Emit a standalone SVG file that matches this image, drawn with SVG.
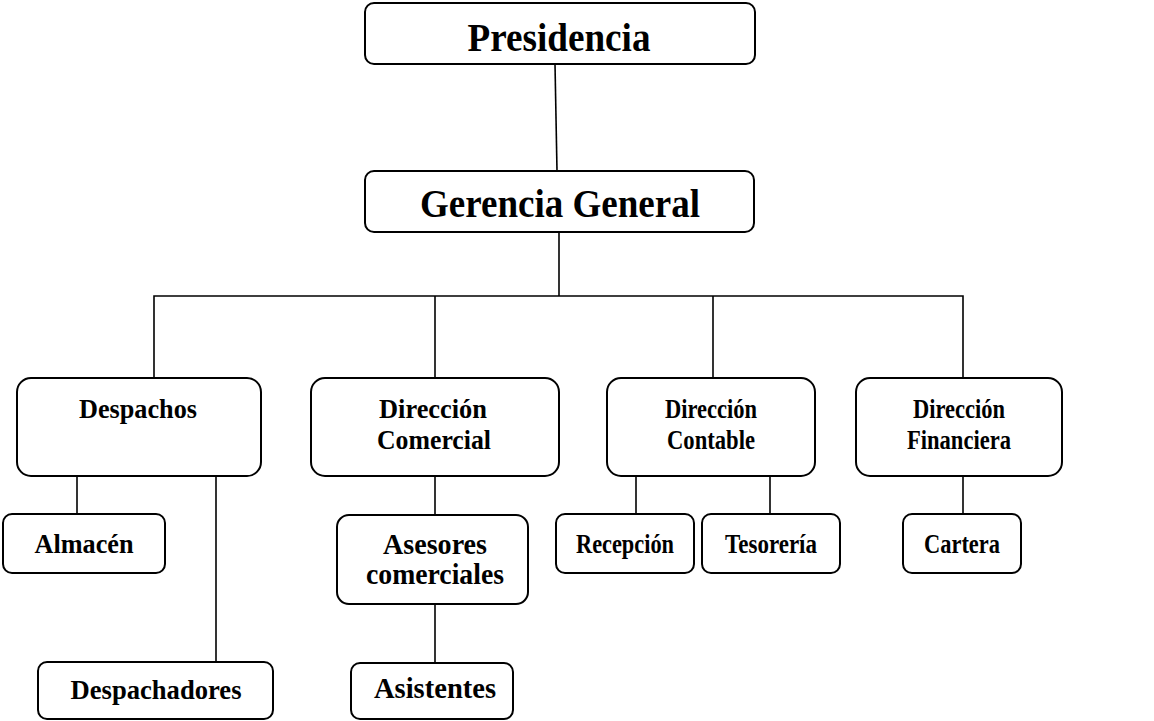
<svg xmlns="http://www.w3.org/2000/svg" width="1154" height="721" viewBox="0 0 1154 721">
<style>
.box{fill:#fff;stroke:#000;stroke-width:2}
.ln{stroke:#000;stroke-width:1.6;fill:none}
text{font-family:"Liberation Serif","Times New Roman",serif;font-weight:bold;fill:#000;text-anchor:middle}
.big{font-size:40px}
.sm{font-size:27px}
.md{font-size:30px}
</style>
<rect width="1154" height="721" fill="#fff"/>
<g id="connectors">
<line class="ln" x1="555" y1="64" x2="557" y2="171"/>
<line class="ln" x1="559" y1="232" x2="559" y2="296"/>
<polyline class="ln" points="154,378 154,296 963,296 963,378"/>
<line class="ln" x1="435" y1="296" x2="435" y2="378"/>
<line class="ln" x1="713" y1="296" x2="713" y2="378"/>
<line class="ln" x1="77" y1="476" x2="77" y2="514"/>
<line class="ln" x1="216" y1="476" x2="216" y2="662"/>
<line class="ln" x1="435" y1="476" x2="435" y2="515"/>
<line class="ln" x1="435" y1="604" x2="435" y2="663"/>
<line class="ln" x1="636" y1="477" x2="636" y2="514"/>
<line class="ln" x1="770" y1="477" x2="770" y2="514"/>
<line class="ln" x1="963" y1="476" x2="963" y2="514"/>
</g>
<g id="presidencia">
<rect class="box" x="365" y="3" width="390" height="61" rx="9"/>
<text class="big" x="559" y="51" textLength="183" lengthAdjust="spacingAndGlyphs">Presidencia</text>
</g>
<g id="gerencia">
<rect class="box" x="365" y="171" width="389" height="61" rx="9"/>
<text class="big" x="560" y="217" textLength="280" lengthAdjust="spacingAndGlyphs">Gerencia General</text>
</g>
<g id="despachos">
<rect class="box" x="17" y="378" width="244" height="98" rx="14"/>
<text class="sm" x="138" y="418" textLength="118" lengthAdjust="spacingAndGlyphs">Despachos</text>
</g>
<g id="direccion-comercial">
<rect class="box" x="311" y="378" width="248" height="98" rx="14"/>
<text class="sm" x="433" y="418" textLength="108" lengthAdjust="spacingAndGlyphs">Dirección</text>
<text class="sm" x="434" y="449" textLength="114" lengthAdjust="spacingAndGlyphs">Comercial</text>
</g>
<g id="direccion-contable">
<rect class="box" x="607" y="378" width="208" height="98" rx="14"/>
<text class="sm" x="711" y="418" textLength="92" lengthAdjust="spacingAndGlyphs">Dirección</text>
<text class="sm" x="711" y="449" textLength="88" lengthAdjust="spacingAndGlyphs">Contable</text>
</g>
<g id="direccion-financiera">
<rect class="box" x="856" y="378" width="206" height="98" rx="14"/>
<text class="sm" x="959" y="418" textLength="92" lengthAdjust="spacingAndGlyphs">Dirección</text>
<text class="sm" x="959" y="449" textLength="104" lengthAdjust="spacingAndGlyphs">Financiera</text>
</g>
<g id="almacen">
<rect class="box" x="3" y="514" width="162" height="59" rx="9"/>
<text class="sm" x="84" y="553" textLength="99" lengthAdjust="spacingAndGlyphs">Almacén</text>
</g>
<g id="despachadores">
<rect class="box" x="38" y="662" width="235" height="57" rx="9"/>
<text class="sm" x="156" y="699" textLength="171" lengthAdjust="spacingAndGlyphs">Despachadores</text>
</g>
<g id="asesores">
<rect class="box" x="337" y="515" width="191" height="89" rx="12"/>
<text class="md" x="435" y="554" textLength="104" lengthAdjust="spacingAndGlyphs">Asesores</text>
<text class="md" x="435" y="584" textLength="138" lengthAdjust="spacingAndGlyphs">comerciales</text>
</g>
<g id="asistentes">
<rect class="box" x="351" y="663" width="162" height="56" rx="9"/>
<text class="md" x="435" y="698" textLength="122" lengthAdjust="spacingAndGlyphs">Asistentes</text>
</g>
<g id="recepcion">
<rect class="box" x="556" y="514" width="138" height="59" rx="9"/>
<text class="sm" x="625" y="553" textLength="98" lengthAdjust="spacingAndGlyphs">Recepción</text>
</g>
<g id="tesoreria">
<rect class="box" x="702" y="514" width="138" height="59" rx="9"/>
<text class="sm" x="771" y="553" textLength="92" lengthAdjust="spacingAndGlyphs">Tesorería</text>
</g>
<g id="cartera">
<rect class="box" x="903" y="514" width="118" height="59" rx="9"/>
<text class="sm" x="962" y="553" textLength="76" lengthAdjust="spacingAndGlyphs">Cartera</text>
</g>
</svg>
